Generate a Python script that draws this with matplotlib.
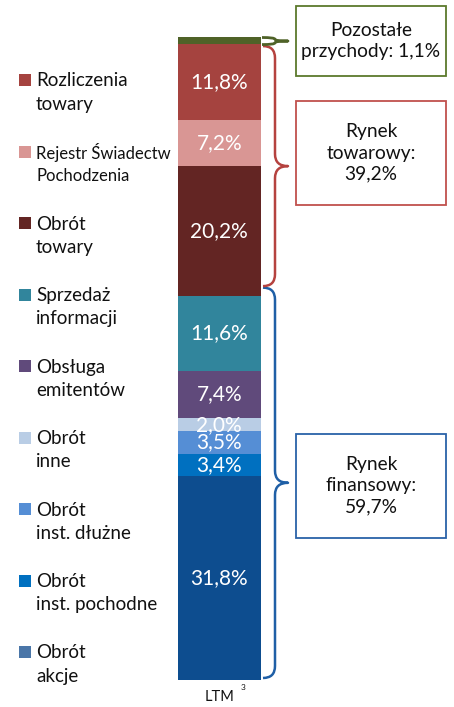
import matplotlib
matplotlib.use("Agg")
import matplotlib.pyplot as plt
from matplotlib.patches import Rectangle, PathPatch
from matplotlib.path import Path
import numpy as np

plt.rcParams['font.family'] = ['Lato', 'DejaVu Sans']

# ---------------- data ----------------
categories = ['Obrót\nakcje', 'Obrót\ninst. pochodne', 'Obrót\ninst. dłużne',
              'Obrót\ninne', 'Obsługa\nemitentów', 'Sprzedaż\ninformacji',
              'Obrót\ntowary', 'Rejestr Świadectw\nPochodzenia',
              'Rozliczenia\ntowary', 'Pozostałe przychody']
values = [31.8, 3.4, 3.5, 2.0, 7.4, 11.6, 20.2, 7.2, 11.8, 1.1]
bar_colors = ['#0D4D8F', '#0070C0', '#558ED5', '#B9CDE5', '#604A7B',
              '#31859C', '#632523', '#D99694', '#A5433F', '#4F6228']
legend_colors = ['#4A76A8', '#0070C0', '#558ED5', '#B9CDE5', '#604A7B',
                 '#31859C', '#632523', '#D99694', '#A5433F', '#4F6228']
show_label = [True] * 9 + [False]
x_label = 'LTM'
x_label_sup = '3'

group_labels = ['Rynek\nfinansowy:\n59,7%', 'Rynek\ntowarowy:\n39,2%',
                'Pozostałe\nprzychody: 1,1%']
group_sizes = [6, 3, 1]          # number of segments in each group
group_colors = ['#1F5FA6', '#B5423F', '#4F6228']
box_edge_colors = ['#2A62A8', '#C0504D', '#5C7A2C']

# ---------------- layout (pixels) ----------------
W, H = 454, 707
BAR_L, BAR_R, BAR_T, BAR_B = 178, 260.5, 37, 680

fig = plt.figure(figsize=(W / 100, H / 100), dpi=100)
ov = fig.add_axes([0, 0, 1, 1])
ov.set_xlim(0, W)
ov.set_ylim(H, 0)
ov.axis('off')

ax = fig.add_axes([BAR_L / W, (H - BAR_B) / H, (BAR_R - BAR_L) / W, (BAR_B - BAR_T) / H])
ax.set_xlim(-0.5, 0.5)
ax.set_ylim(0, 100)
ax.axis('off')

bottoms = np.concatenate([[0], np.cumsum(values)[:-1]])
for v, b, c, s in zip(values, bottoms, bar_colors, show_label):
    ax.bar(0, v, bottom=b, width=1.0, color=c, linewidth=0)
    if s:
        ax.text(0, b + v / 2, f"{v:.1f}%".replace('.', ','), ha='center', va='center',
                color='white', fontsize=15)

def ypx(v):
    d = ax.transData.transform((0, v))
    return H - d[1]

# x label
ov.text((BAR_L + BAR_R) / 2, 697, x_label, ha='center', va='center', fontsize=10.5, color='#111111')
ov.text(243, 688, x_label_sup, ha='center', va='center', fontsize=6, color='#111111')

# legend (top to bottom = reverse stack order, excluding the last "Pozostałe")
leg_items = list(zip(categories[:-1], legend_colors[:-1]))[::-1]
LEG_Y0, LEG_DY = 80, 71.5
for i, (lab, col) in enumerate(leg_items):
    y = LEG_Y0 + i * LEG_DY
    ov.add_patch(Rectangle((19, y - 6), 12, 12, facecolor=col, edgecolor='none'))
    if 'Rejestr' in lab:
        ov.text(36, y - 8, lab, ha='left', va='top', fontsize=12, color='#111111',
                linespacing=1.45)
    else:
        ov.text(36, y - 7.5, lab, ha='left', va='top', fontsize=13.5, color='#111111',
                linespacing=1.45)

# braces
def brace(top, bot, x0, color, r=12, tip=13, lw=1.8):
    mid = (top + bot) / 2
    rr = min(r, (bot - top) / 4)
    verts = [(x0 - r, top), (x0, top), (x0, top + rr),
             (x0, mid - rr), (x0, mid), (x0 + tip, mid),
             (x0, mid), (x0, mid + rr),
             (x0, bot - rr), (x0, bot), (x0 - r, bot)]
    codes = [Path.MOVETO, Path.CURVE3, Path.CURVE3,
             Path.LINETO, Path.CURVE3, Path.CURVE3,
             Path.CURVE3, Path.CURVE3,
             Path.LINETO, Path.CURVE3, Path.CURVE3]
    ov.add_patch(PathPatch(Path(verts, codes), facecolor='none', edgecolor=color,
                           lw=lw, capstyle='butt', joinstyle='round'))
    return mid

cum = np.cumsum(values)
edges = [0] + [cum[sum(group_sizes[:k + 1]) - 1] for k in range(len(group_sizes))]
for k in range(len(group_sizes)):
    if k == 0:
        bot, top = ypx(edges[0]) - 2, ypx(edges[1]) - 8.5
        brace(top, bot, 275, group_colors[k])
    elif k == 1:
        bot, top = ypx(edges[1]) - 10, ypx(edges[2]) + 2
        brace(top, bot, 275, group_colors[k])
    else:
        bot, top = ypx(edges[2]) + 0.5, ypx(edges[3]) + 0.5
        brace(top, bot, 275, group_colors[k], r=13, tip=13, lw=2.0)

# boxes
boxes = [(296, 434, 150, 104), (296, 101, 150, 104), (296, 6, 150, 70)]
for (bx, by, bw, bh), lab, ec in zip(boxes, group_labels, box_edge_colors):
    ov.add_patch(Rectangle((bx, by), bw, bh, facecolor='white', edgecolor=ec, lw=1.3))
    ov.text(bx + bw / 2, by + bh / 2, lab, ha='center', va='center', fontsize=13.8,
            color='#111111', linespacing=1.3)

fig.savefig('out.png', dpi=100)
